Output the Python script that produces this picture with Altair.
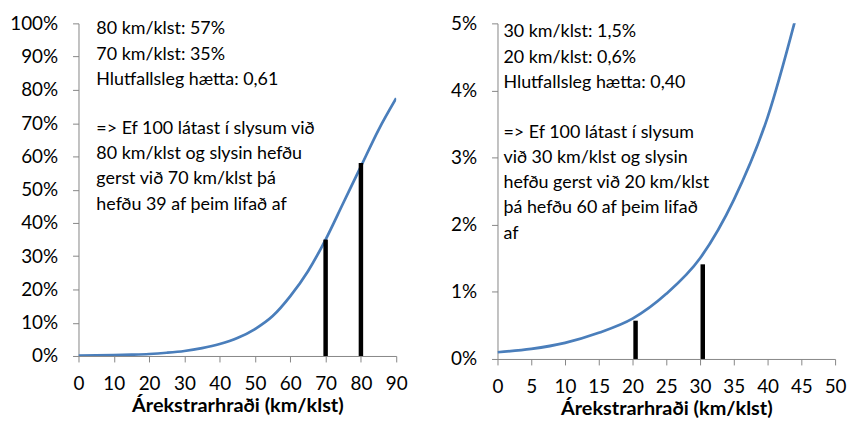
import altair as alt
import pandas as pd

# Curve: fatality risk (fraction) vs impact speed (km/klst)
speed = [0, 5, 10, 15, 20, 25, 30, 35, 40, 45, 50, 55, 60, 65, 70, 75, 80, 85, 90]
risk = [0.001, 0.0015, 0.0024, 0.0039, 0.006, 0.0097, 0.015, 0.0237, 0.036, 0.054,
        0.081, 0.12, 0.18, 0.255, 0.35, 0.46, 0.57, 0.68, 0.775]

# Black marker bars
left_bar_x = [70, 80]
left_bar_y = [0.35, 0.58]
right_bar_x = [20.45, 30.4]
right_bar_y = [0.0057, 0.0141]

left_text_top = "80 km/klst: 57%\n70 km/klst: 35%\nHlutfallsleg hætta: 0,61"
left_text_bottom = ("=> Ef 100 látast í slysum við\n80 km/klst og slysin hefðu\n"
                    "gerst við 70 km/klst þá\nhefðu 39 af þeim lifað af")
right_text_top = "30 km/klst: 1,5%\n20 km/klst: 0,6%\nHlutfallsleg hætta: 0,40"
right_text_bottom = ("=> Ef 100 látast í slysum\nvið 30 km/klst og slysin\n"
                     "hefðu gerst við 20 km/klst\nþá hefðu 60 af þeim lifað\naf")

x_title = "Árekstrarhraði (km/klst)"
FONT = "Lato"
BLUE = "#4a7ebb"
LH = 25.5

curve = pd.DataFrame({"speed": speed, "risk": risk})


def panel(xmax, xstep, ymax, ystep, w, h, curve_df, bx, by, t_top, t_bot, tx, tdy, gap):
    xs = alt.Scale(domain=[0, xmax], nice=False, zero=True)
    ys = alt.Scale(domain=[0, ymax], nice=False)
    xvals = list(range(0, xmax + 1, xstep))
    n = int(round(ymax / ystep))
    yvals = [round(i * ystep, 4) for i in range(n + 1)]
    xaxis = alt.Axis(values=xvals, title=x_title, format="d")
    yaxis = alt.Axis(values=yvals, title=None, format=".0%")

    line = alt.Chart(curve_df).mark_line(
        color=BLUE, strokeWidth=2.75, interpolate="monotone", clip=True
    ).encode(
        x=alt.X("speed:Q", scale=xs, axis=xaxis),
        y=alt.Y("risk:Q", scale=ys, axis=yaxis),
    )
    bars_df = pd.DataFrame({"x": bx, "y": by, "y0": [0] * len(bx)})
    bars = alt.Chart(bars_df).mark_rule(color="black", strokeWidth=4.5).encode(
        x=alt.X("x:Q", scale=xs, axis=xaxis),
        y=alt.Y("y0:Q", scale=ys, axis=yaxis),
        y2="y:Q",
    )
    layers = [line, bars]
    for t, extra in ((t_top, 0), (t_bot, gap)):
        tdf = pd.DataFrame({"x": [tx], "y": [ymax], "t": [t]})
        layers.append(alt.Chart(tdf).mark_text(
            align="left", baseline="alphabetic", lineBreak="\n", lineHeight=LH,
            fontSize=18, font=FONT, color="black", dy=tdy + extra
        ).encode(
            x=alt.X("x:Q", scale=xs, axis=xaxis),
            y=alt.Y("y:Q", scale=ys, axis=yaxis),
            text="t:N",
        ))
    return alt.layer(*layers).properties(width=w, height=h)


left = panel(90, 10, 1.0, 0.1, 320, 335, curve, left_bar_x, left_bar_y,
             left_text_top, left_text_bottom, 5.06, 11, 100)
right_curve = curve[curve["speed"] <= 45]
right = panel(50, 5, 0.05, 0.01, 340, 338, right_curve, right_bar_x, right_bar_y,
              right_text_top, right_text_bottom, 0.88, 14, 101)

chart = alt.hconcat(left, right, spacing=42).properties(
    padding={"left": 1, "top": 5, "right": 0, "bottom": 0}
).configure_view(stroke=None).configure_axis(
    grid=False,
    domainColor="#868686",
    tickColor="#868686",
    tickSize=6,
    labelFont=FONT,
    labelFontSize=19,
    labelColor="black",
    labelOverlap=False,
    labelFlush=False,
    titleFont=FONT,
    titleFontSize=20,
    titleFontWeight="bold",
    titleColor="black",
).configure_axisY(labelPadding=15).configure_axisX(labelPadding=13, titlePadding=2)

chart.save("out.html", embed_options={"renderer": "svg", "actions": False})
